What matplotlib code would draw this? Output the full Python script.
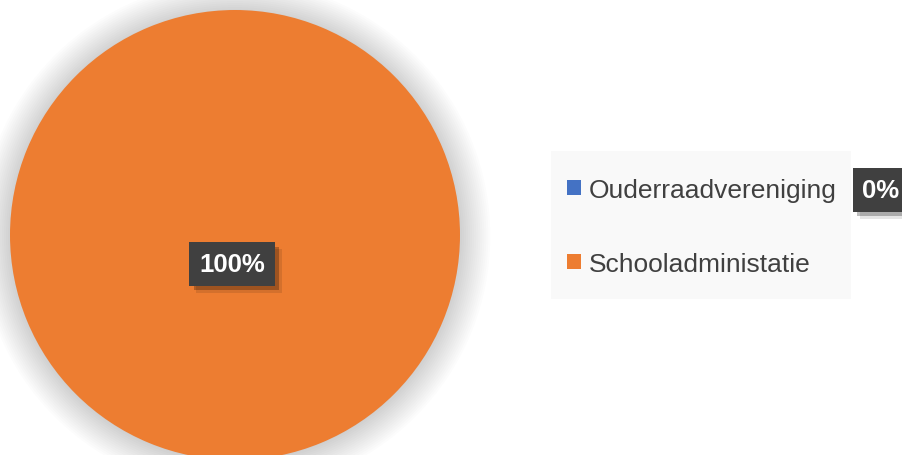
import matplotlib.pyplot as plt
from matplotlib.patches import Patch, Circle, Rectangle
import matplotlib.patheffects as pe

plt.rcParams['font.family'] = ['Liberation Sans', 'DejaVu Sans']

labels = ["Ouderraadvereniging", "Schooladministatie"]
values = [0, 100]
pct_labels = ["0%", "100%"]
colors = ["#4472c4", "#ed7d31"]

fig = plt.figure(figsize=(9.02, 4.56), dpi=100)
W, H = 902, 456

# pie axes: 450px circle, centre at (235, 236) from top-left
ax = fig.add_axes([10 / W, (H - 236 - 225) / H, 450 / W, 450 / H])

# soft shadow round the pie
for k in range(16):
    ax.add_patch(Circle((0, -0.005), 1 + k * 0.009, color="#000000", alpha=0.012,
                        lw=0, zorder=0, clip_on=False))

wedges, _ = ax.pie(values, colors=colors, startangle=90, counterclock=False,
                   radius=1, wedgeprops=dict(linewidth=0), frame=True)
for w in wedges:
    w.set_zorder(2)
    w.set_clip_on(False)
ax.set_xlim(-1, 1)
ax.set_ylim(-1, 1)
ax.set_aspect("equal")
ax.axis("off")

shadow = [pe.SimplePatchShadow(offset=(3, -3), shadow_rgbFace="#000000", alpha=0.25),
          pe.SimplePatchShadow(offset=(5, -5), shadow_rgbFace="#000000", alpha=0.1),
          pe.Normal()]

box = dict(boxstyle="square,pad=0.38", facecolor="#404040", edgecolor="none",
           linewidth=0)

t = ax.text(-0.013, -0.13, pct_labels[1], ha="center", va="center", fontsize=18.5,
            fontweight="bold", color="white", zorder=5, bbox=box)
t.get_bbox_patch().set_path_effects(shadow)

# legend background
fig.patches.append(Rectangle((551 / W, 1 - 300 / H), 300 / W, 148 / H,
                             transform=fig.transFigure, facecolor="#f9f9f9",
                             edgecolor="none", zorder=0))

handles = [Patch(facecolor=c, edgecolor="none") for c in colors]
fig.legend(handles, labels, loc="center left", bbox_to_anchor=(554 / W, 1 - 228 / H),
           frameon=False, fontsize=19, labelcolor="#404040", handlelength=0.52,
           handleheight=0.52, handletextpad=0.3, labelspacing=1.9, borderpad=0)

t2 = fig.text(881 / W, 1 - 191 / H, pct_labels[0], ha="center", va="center",
              fontsize=18.5, fontweight="bold", color="white", zorder=5, bbox=box)
t2.get_bbox_patch().set_path_effects(shadow)

fig.savefig("out.png", dpi=100)
plt.close(fig)
